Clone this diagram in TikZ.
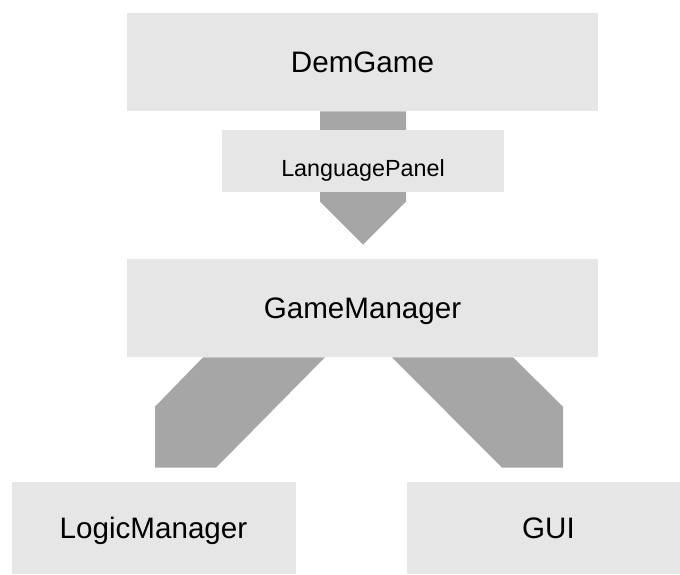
\documentclass[tikz,border=0pt]{standalone}
\usepackage{fontspec}
\setmainfont{Liberation Sans}
\usetikzlibrary{
	calc,
}
\definecolor{boxfill}{RGB}{230,230,230}
\definecolor{barfill}{RGB}{166,166,166}
\tikzset{block/.style={
	fill=boxfill,
	draw=none,
	inner sep=0mm,
	text height=15.9pt,
	text depth=0pt,
	font=\fontsize{22.2}{26}\selectfont,
}}
\tikzset{wide block/.style={
	block,
	minimum width=353.25pt,
	minimum height=73.5pt,
}}
\tikzset{leaf block/.style={
	block,
	minimum width=213pt,
	minimum height=69pt,
}}
\tikzset{panel block/.style={
	block,
	minimum width=211.5pt,
	minimum height=46.5pt,
	text height=23pt,
	font=\fontsize{17.5}{21}\selectfont,
}}
\tikzset{bar/.style={
	fill=barfill,
	draw=none,
}}

\begin{document}
\begin{tikzpicture}[x=0.75pt, y=-0.75pt]
\useasboundingbox (0,0) rectangle (680,574);

\node[wide block](demgame) 	at (362.5,62) {DemGame};
\node[wide block](gamemgr) 	at (362.5,308) {GameManager};
\node[leaf block](logicmgr) at (153.5,528) {LogicManager};
\node[leaf block](gui) 		at (548.5,528) {GUI};

% DemGame -> GameManager
\fill[bar] ($(demgame.south)+(-42.5,0)$) -- ($(demgame.south)+(43.5,0)$)
-- ($(gamemgr.north)+(43.5,-57)$) -- ($(gamemgr.north)+(0.5,-14)$)
-- ($(gamemgr.north)+(-42.5,-57)$) -- cycle;

% GameManager -> LogicManager
\fill[bar] ($(gamemgr.south)+(-159.5,0)$) -- ($(gamemgr.south)+(-37.5,0)$)
-- ($(logicmgr.north)+(62.5,-14)$) -- ($(logicmgr.north)+(1.5,-14)$)
-- ($(logicmgr.north)+(1.5,-75)$) -- cycle;

% GameManager -> GUI
\fill[bar] ($(gamemgr.south)+(29.5,0)$) -- ($(gamemgr.south)+(150.5,0)$)
-- ($(gui.north)+(14.5,-75)$) -- ($(gui.north)+(14.5,-14)$)
-- ($(gui.north)+(-46.5,-14)$) -- cycle;

\node[panel block](langpanel) at (363,161) {LanguagePanel};

\end{tikzpicture}
\end{document}
